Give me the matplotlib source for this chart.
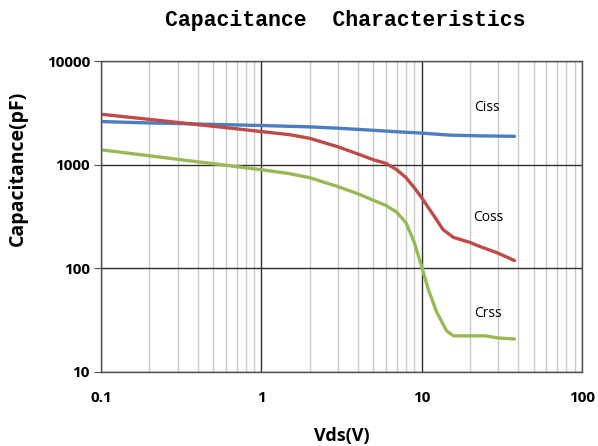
import numpy as np
import matplotlib.pyplot as plt
from matplotlib.ticker import FixedLocator, NullFormatter

# values (Vds in V, capacitance in pF)
vds_ciss = [0.1, 0.2, 0.3, 0.5, 1, 2, 3, 5, 7, 10, 15, 23, 30, 38]
ciss = [2610, 2530, 2500, 2450, 2390, 2320, 2250, 2150, 2080, 2020, 1930, 1900, 1890, 1880]

vds_coss = [0.1, 0.2, 0.3, 0.5, 1, 1.5, 2, 3, 4, 5, 6, 7, 8, 9, 10, 11.8, 13.6, 15.8, 20, 23, 30, 38]
coss = [3070, 2740, 2560, 2350, 2090, 1950, 1800, 1490, 1270, 1117, 1030, 895, 750, 600, 482, 330, 237, 199, 178, 163, 140, 119]

vds_crss = [0.1, 0.2, 0.3, 0.5, 1, 1.5, 2, 3, 4, 5, 6, 7, 8, 9, 10, 11, 12.4, 14.3, 15.8, 20, 25, 30, 38]
crss = [1393, 1220, 1128, 1023, 895, 820, 750, 615, 525, 454, 404, 348, 275, 178, 105, 63, 38, 25, 22.3, 22.3, 22.3, 21.3, 20.8]

xticks = [0.1, 1, 10, 100]
xticklabels = ['0.1', '1', '10', '100']
yticks = [10, 100, 1000, 10000]
yticklabels = ['10', '100', '1000', '10000']

fig = plt.figure(figsize=(5.98, 4.46), dpi=100)
ax = fig.add_axes([0.169, 0.166, 0.804, 0.697])

ax.plot(vds_ciss, ciss, color='#4a7ebf', lw=2.4, solid_capstyle='round', solid_joinstyle='round')
ax.plot(vds_coss, coss, color='#be4b48', lw=2.4, solid_capstyle='round', solid_joinstyle='round')
ax.plot(vds_crss, crss, color='#98b954', lw=2.4, solid_capstyle='round', solid_joinstyle='round')

ax.set_xscale('log')
ax.set_yscale('log')
ax.set_xlim(0.1, 100)
ax.set_ylim(10, 10000)

ax.set_xticks(xticks)
ax.set_xticklabels(xticklabels)
ax.set_yticks(yticks)
ax.set_yticklabels(yticklabels)
minors = [m * d for d in [0.1, 1, 10] for m in range(2, 10)]
ax.xaxis.set_minor_locator(FixedLocator(minors))
ax.xaxis.set_minor_formatter(NullFormatter())
ax.yaxis.set_minor_locator(FixedLocator([]))

ax.grid(True, which='major', color='#303030', lw=1.0)
ax.grid(True, which='minor', axis='x', color='#c8c8c8', lw=1.0)
ax.set_axisbelow(True)

for s in ax.spines.values():
    s.set_color('#505050')
    s.set_linewidth(1.0)

ax.tick_params(axis='x', which='both', length=0, pad=13.5)
ax.tick_params(axis='y', which='major', length=5, color='#505050', pad=3)
for lab in ax.get_xticklabels() + ax.get_yticklabels():
    lab.set_fontfamily('Open Sans')
    lab.set_fontweight('bold')
    lab.set_fontsize(11)

ax.text(25.6, 3530, 'Ciss', fontsize=10, fontfamily='Open Sans', ha='center', va='center')
ax.text(26, 309, 'Coss', fontsize=10, fontfamily='Open Sans', ha='center', va='center')
ax.text(26, 37, 'Crss', fontsize=10, fontfamily='Open Sans', ha='center', va='center')

ax.set_xlabel('Vds(V)', fontfamily='Open Sans', fontweight='bold', fontsize=13, labelpad=16)
ax.set_ylabel('Capacitance(pF)', fontfamily='Open Sans', fontweight='bold', fontsize=14)
ax.yaxis.set_label_coords(-0.152, 0.655)
fig.text(0.577, 0.953, 'Capacitance  Characteristics', fontfamily='Liberation Mono',
         fontweight='bold', fontsize=15.5, ha='center', va='center')

fig.savefig('out.png', dpi=100)
